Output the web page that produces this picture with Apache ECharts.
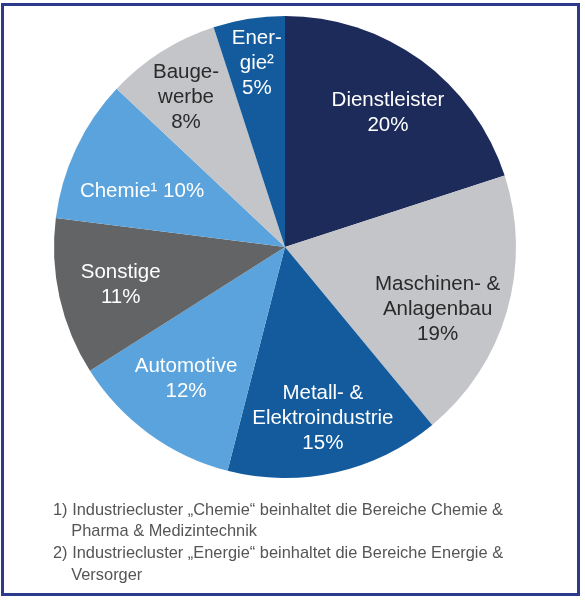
<!DOCTYPE html>
<html>
<head>
<meta charset="utf-8">
<script src="https://cdn.jsdelivr.net/npm/echarts@6/dist/echarts.min.js"></script>
<style>
html,body{margin:0;padding:0;background:#fff;}
#chart{width:585px;height:600px;}
</style>
</head>
<body>
<div id="chart"></div>
<script>
const categories = ['Dienstleister', 'Maschinen- & Anlagenbau', 'Metall- & Elektroindustrie', 'Automotive', 'Sonstige', 'Chemie', 'Baugewerbe', 'Energie'];
const values = [20, 19, 15, 12, 11, 10, 8, 5];
const labelTexts = ['Dienstleister', 'Maschinen- &\nAnlagenbau', 'Metall- &\nElektroindustrie', 'Automotive', 'Sonstige', 'Chemie¹', 'Bauge-\nwerbe', 'Ener-\ngie²'];
const labelJoin = ['\n', '\n', '\n', '\n', '\n', ' ', '\n', '\n'];
const footnotes = [
  '1) Industriecluster „Chemie“ beinhaltet die Bereiche Chemie &',
  '    Pharma & Medizintechnik',
  '2) Industriecluster „Energie“ beinhaltet die Bereiche Energie &',
  '    Versorger'
];

const sliceColors = ['#1d2b5b', '#c4c5c8', '#135b9d', '#5ba3dc', '#636466', '#5ba3dc', '#c4c5c8', '#135b9d'];
const textColors = ['#ffffff', '#2a2a2a', '#ffffff', '#ffffff', '#ffffff', '#ffffff', '#2a2a2a', '#ffffff'];
// small per-label nudges (px) so the labels sit where the reference places them
const labelNudge = [[1, 6], [-14, 14], [0, 2], [3, -9], [5, 0], [14, 18], [-6, -3], [-1, -12]];

const pieData = categories.map((c, i) => ({
  name: c, value: values[i],
  itemStyle: { color: sliceColors[i] }
}));
const labelData = categories.map((c, i) => ({
  name: c, value: values[i],
  label: { color: textColors[i] }
}));

const chart = echarts.init(document.getElementById('chart'), null, { renderer: 'canvas' });
const fontFam = '"Liberation Sans", Arial, sans-serif';
chart.setOption({
  animation: false,
  backgroundColor: '#ffffff',
  series: [
    {
      type: 'pie',
      center: [285, 247],
      radius: [0, 231],
      startAngle: 90,
      clockwise: true,
      silent: true,
      label: { show: false },
      labelLine: { show: false },
      itemStyle: { borderWidth: 0 },
      data: pieData
    },
    {
      type: 'pie',
      center: [285, 247],
      radius: [110, 231],
      startAngle: 90,
      clockwise: true,
      silent: true,
      itemStyle: { color: 'transparent', borderWidth: 0 },
      label: {
        show: true,
        position: 'inside',
        fontFamily: fontFam,
        fontSize: 20.5,
        lineHeight: 25,
        align: 'center',
        formatter: p => labelTexts[p.dataIndex] + labelJoin[p.dataIndex] + p.value + '%'
      },
      labelLayout: p => ({ dx: labelNudge[p.dataIndex][0], dy: labelNudge[p.dataIndex][1] }),
      labelLine: { show: false },
      data: labelData
    }
  ],
  graphic: [
    {
      type: 'rect',
      shape: { x: 2.5, y: 4.5, width: 576, height: 590 },
      style: { fill: 'none', stroke: '#2b3a8c', lineWidth: 3 },
      silent: true
    }
  ].concat(footnotes.map((t, i) => ({
    type: 'text',
    left: 53,
    top: 502 + i * 21.8,
    style: { text: t, font: '16.4px ' + fontFam, fill: '#555555' },
    silent: true
  })))
});
</script>
</body>
</html>
